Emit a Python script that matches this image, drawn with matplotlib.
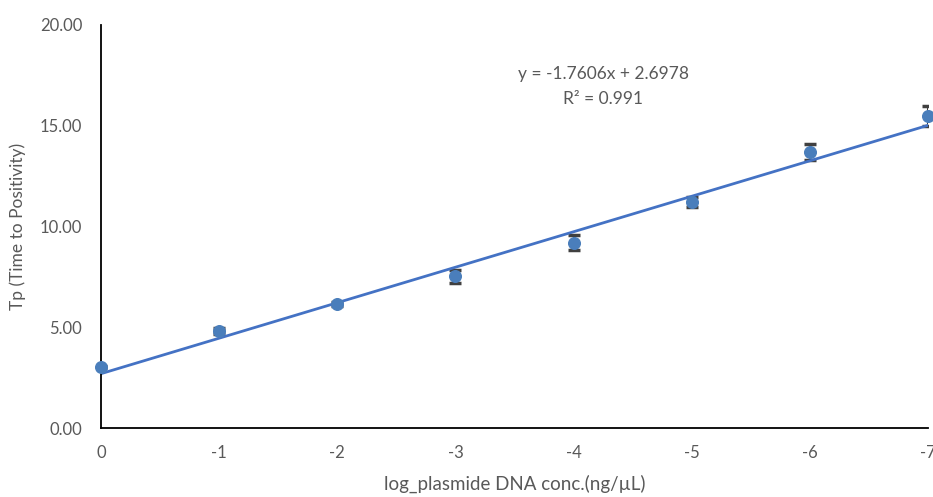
import numpy as np
import matplotlib
matplotlib.use("Agg")
import matplotlib.pyplot as plt

plt.rcParams['font.family'] = ['Lato', 'DejaVu Sans']

# data
log_conc = [0, -1, -2, -3, -4, -5, -6, -7]
tp_mean = [3.02, 4.83, 6.14, 7.52, 9.20, 11.22, 13.68, 15.48]
tp_err = [0.05, 0.15, 0.10, 0.30, 0.38, 0.25, 0.40, 0.48]
y_ticks = [0, 5, 10, 15, 20]

slope = -1.7606
intercept = 2.6978
r2 = 0.991

blue = '#4A7EBB'
line_blue = '#4472C4'
txt = '#595959'

fig = plt.figure(figsize=(9.33, 4.97), dpi=100)
ax = fig.add_axes([0.1083, 0.1388, 0.8864, 0.8109])

ax.errorbar(log_conc, tp_mean, yerr=tp_err, fmt='none', ecolor='#404040',
            elinewidth=1.5, capsize=4, capthick=2.5, zorder=2)
ax.scatter(log_conc, tp_mean, s=70, color=blue, zorder=3, clip_on=False)

xs = np.array([0, -7])
ax.plot(xs, slope * xs + intercept, color=line_blue, lw=2, zorder=2.5)

ax.set_xlim(0, -7)
ax.set_ylim(0, 20)
ax.set_xticks(log_conc)
ax.set_xticklabels([str(v) if v == 0 else '-%d' % abs(v) for v in log_conc])
ax.set_yticks(y_ticks)
ax.set_yticklabels(['%.2f' % v for v in y_ticks])

for s in ['top', 'right']:
    ax.spines[s].set_visible(False)
for s in ['left', 'bottom']:
    ax.spines[s].set_color('black')
    ax.spines[s].set_linewidth(1.3)

ax.tick_params(length=0, labelsize=12, colors=txt, pad=12)
ax.tick_params(axis='y', pad=13.5)

ax.text(-4.25, 16.95, 'y = -1.7606x + 2.6978\nR² = %.3f' % r2, ha='center', va='center',
        fontsize=12.5, color=txt, linespacing=1.75)

ax.set_xlabel('log_plasmide DNA conc.(ng/µL)', fontsize=13.5, color=txt, labelpad=10)
ax.set_ylabel('Tp (Time to Positivity)', fontsize=12.5, color=txt, labelpad=10)

fig.savefig('out.png', dpi=100)
